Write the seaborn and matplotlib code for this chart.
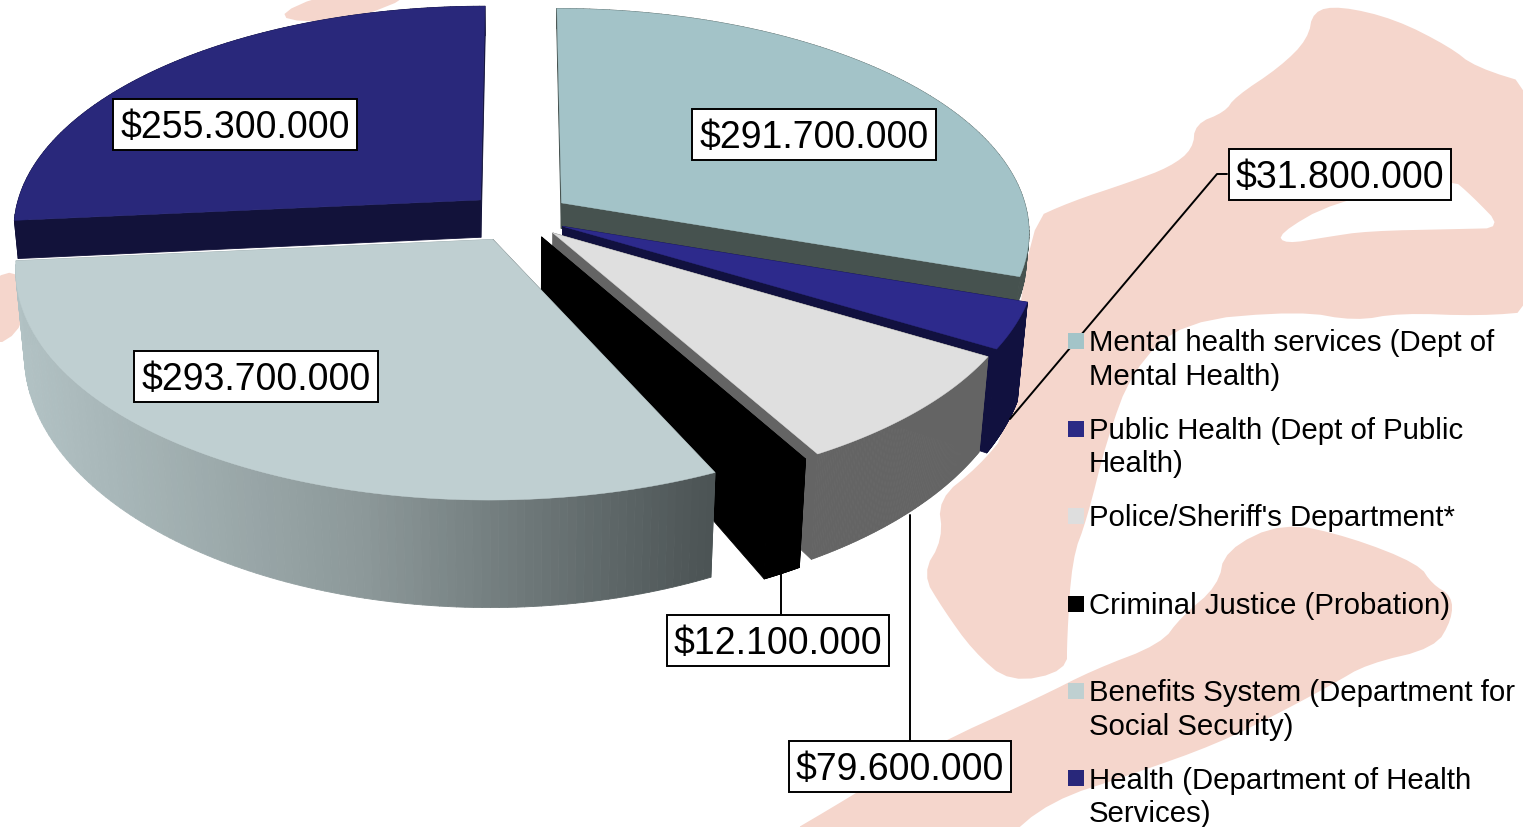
import numpy as np
import seaborn as sns
import matplotlib.pyplot as plt
from matplotlib.collections import PolyCollection
from matplotlib.patches import Rectangle

## Data
categories=['Mental health services (Dept of\nMental Health)','Public Health (Dept of Public\nHealth)',"Police/Sheriff's Department*",'Criminal Justice (Probation)','Benefits System (Department for\nSocial Security)','Health (Department of Health\nServices)']
values=[291.7,31.8,79.6,12.1,293.7,255.3]
value_labels=['$291.700.000','$31.800.000','$79.600.000','$12.100.000','$293.700.000','$255.300.000']
top_colors=['#a3c3c8','#2d2a8c','#dfdfdf','#000000','#bfcfd1','#29287b']
wall_colors=['#46524f','#11113f','#646464','#000000',None,'#12123a']
legend_colors=['#a3c4c8','#2b2a85','#dedede','#000000','#bfd0d1','#28277a']

## Look of the fake 3D pie
cx,cy,rx,ry,g=520,218,467,222,0.125
explode=[0.11,0.1,0.1,0.1,0.115,0.115]
depths=[26,90,82,84,80,38]
draw_order=[0,5,1,2,3,4]
label_pos=[(814,135),(1340,175),(900,767),(778,641),(256,377),(235,125)]
leaders=[None,[(1227,175),(1217,175),(1010,420)],[(910,516),(910,741)],[(781,574),(781,615)],None,None]

def project(u,v):
    w=1+g*v
    return np.column_stack([cx+rx*u/w,cy-ry*v/w])

def smooth(shape,n=2):
    # corner cutting so the traced outlines are not jagged
    xy=np.array(shape,dtype=float)
    for _ in range(n):
        nxt=np.roll(xy,-1,axis=0)
        xy=np.column_stack([0.75*xy+0.25*nxt,0.25*xy+0.75*nxt]).reshape(-1,2)
    return xy

sns.set_theme(style='white')
plt.rcParams['font.family']=['Liberation Sans','DejaVu Sans']
fig=plt.figure(figsize=(15.23,8.28),dpi=100)
ax=fig.add_axes([0,0,1,1])
ax.set_xlim(0,1523)
ax.set_ylim(828,0)
ax.axis('off')

## Pale map behind the pie
pink='#f5d6cc'
north=[(1010,430),(1028,222),(1070,203),(1130,183),(1170,168),(1193,150),(1195,125),(1225,113),(1235,98),(1280,68),(1308,40),(1313,12),(1340,7),(1395,20),(1450,48),(1475,68),(1540,88),(1540,312),(1480,317),(1400,314),(1355,322),(1300,312),(1182,322),(1132,372),(1107,440),(1087,520),(1072,560),(1067,640),(1067,672),(1010,684),(973,652),(943,610),(922,575),(943,540),(938,500),(978,468)]
lake=[(1278,235),(1333,203),(1450,178),(1472,197),(1503,229),(1460,230),(1367,232),(1327,238),(1285,245)]
south=[(1283,523),(1225,551),(1218,587),(1181,618),(1161,645),(1093,671),(1040,698),(930,748),(850,798),(770,845),(1000,845),(1050,802),(1133,775),(1217,745),(1283,712),(1333,685),(1367,665),(1435,649),(1452,620),(1452,597),(1432,585),(1419,565),(1350,538)]
top_patch=[(268,20),(330,-8),(425,-8),(345,24)]
left_patch=[(-12,280),(22,270),(26,328),(-12,352)]
for shape,col in [(north,pink),(lake,'white'),(south,pink),(top_patch,pink),(left_patch,pink)]:
    xy=smooth(shape)
    ax.fill(xy[:,0],xy[:,1],color=col,lw=0,zorder=1)

## Slices: ax.pie on a scratch axes gives angles and exploded centres
geo=fig.add_axes([0,0,0.1,0.1])
wedges,_=geo.pie(values,startangle=90,counterclock=False,explode=explode)
gradient=sns.blend_palette(['#b2c2c4','#8c9899','#4b5354'],n_colors=256)

for z,i in enumerate(draw_order):
    w=wedges[i]
    t=np.radians(np.linspace(w.theta1,w.theta2,120))
    u=np.r_[w.center[0],w.center[0]+w.r*np.cos(t),w.center[0]]
    v=np.r_[w.center[1],w.center[1]+w.r*np.sin(t),w.center[1]]
    top=project(u,v)
    d=depths[i]/(1+g*v)**2
    low=top.copy()
    low[:,1]+=d
    low[:,0]-=0.02*(top[:,0]-cx)*d/100
    quads=[[top[k],top[k+1],low[k+1],low[k]] for k in range(len(top)-1)]
    # paint back to front so long cut faces never land on the curved wall
    seq=np.argsort([np.mean(np.array(q)[:,1]) for q in quads])
    quads=[quads[k] for k in seq]
    if wall_colors[i] is None:
        idx=np.clip((np.array([np.mean(np.array(q)[:,0]) for q in quads])-20)/690*255,0,255).astype(int)
        cols=[gradient[k] for k in idx]
    else:
        cols=[wall_colors[i]]*len(quads)
    ax.add_collection(PolyCollection(quads,facecolors=cols,edgecolors=cols,linewidths=0.6,zorder=3+z*2))
    ax.fill(top[:,0],top[:,1],color=top_colors[i],lw=0.3,zorder=4+z*2)
geo.remove()

## Value boxes with leader lines
renderer=fig.canvas.get_renderer()
for txt,pos,line in zip(value_labels,label_pos,leaders):
    if line:
        xy=np.array(line)
        ax.plot(xy[:,0],xy[:,1],color='black',lw=1.4,zorder=20)
    label=ax.text(pos[0],pos[1]+3,txt,fontsize=27,ha='center',va='center',color='black',zorder=22)
    width=label.get_window_extent(renderer).width+14
    ax.add_patch(Rectangle((pos[0]-width/2,pos[1]-25.5),width,51,fc='white',ec='black',lw=1.4,zorder=21))

## Legend, one entry every 87.5 px
legend_y=[342,429.5,517,604.5,692,779.5]
for name,col,y in zip(categories,legend_colors,legend_y):
    ax.scatter([1076],[y],marker='s',s=117,color=col,linewidths=0,zorder=22)
    ax.text(1089,y-12.5,name,fontsize=21.2,ha='left',va='top',color='black',linespacing=1.23,zorder=22)

plt.savefig('out.png',dpi=100)
plt.close()
